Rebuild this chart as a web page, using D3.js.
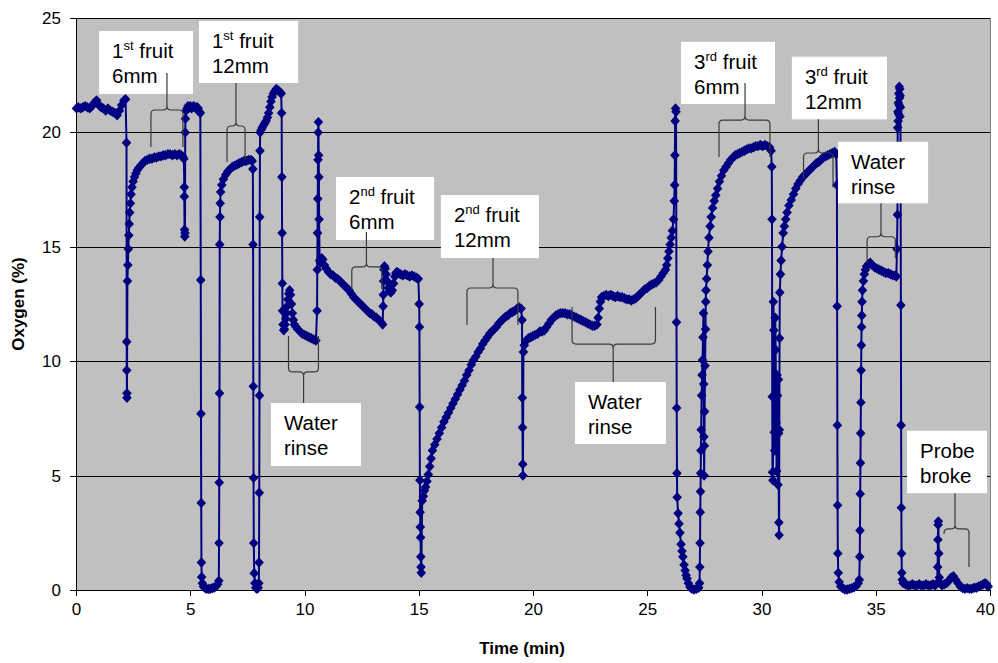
<!DOCTYPE html>
<html>
<head>
<meta charset="utf-8">
<script src="https://cdn.jsdelivr.net/npm/d3@7"></script>
<style>
  body { margin: 0; background: #fff; }
  text { font-family: "Liberation Sans", Arial, sans-serif; }
</style>
</head>
<body>
<div class="canvas"></div>
<script>
// oxygen reading, [time (min), oxygen (%)]
const airStart = [[0.02,21.05],[0.1,21.1],[0.2,21.05],[0.3,21.1],[0.4,21.15],[0.5,21.1],[0.6,21.05],[0.7,21.15],[0.8,21.3],[0.9,21.4],[1.0,21.2],[1.1,21.1],[1.2,21.05],[1.3,20.95],[1.4,21.05],[1.5,20.95],[1.6,20.9],[1.7,20.85],[1.8,20.75],[1.9,20.95],[2.0,21.2],[2.1,21.4],[2.17,21.45]]

const fruit1_6mm = [[2.21,19.55],[2.22,10.85],[2.22,9.6],[2.23,8.6],[2.23,8.4],[2.25,13.5],[2.27,14.2],[2.29,14.9],[2.31,15.5],[2.33,16.0],[2.35,16.5],[2.38,16.9],[2.41,17.3],[2.45,17.6],[2.5,17.85],[2.56,18.05],[2.62,18.2],[2.68,18.35],[2.75,18.45],[2.83,18.55],[2.92,18.65],[3.02,18.75],[3.12,18.8],[3.22,18.85],[3.32,18.85],[3.42,18.9],[3.52,18.9],[3.62,18.95],[3.72,18.95],[3.82,19.0],[3.92,19.0],[4.02,19.05],[4.12,19.05],[4.22,19.0],[4.32,19.05],[4.42,19.0],[4.52,19.05],[4.6,19.0],[4.67,18.95],[4.72,18.85]]

const air1 = [[4.74,17.6],[4.74,17.2],[4.75,15.75],[4.76,15.45],[4.77,15.6],[4.78,20.0],[4.79,20.6],[4.82,20.95],[4.86,21.05],[4.9,21.15],[4.95,21.1],[5.0,21.15],[5.05,21.05],[5.1,21.1],[5.15,21.15],[5.2,21.1],[5.25,21.05],[5.3,21.1],[5.35,21.05],[5.4,20.9],[5.44,20.85]]

const fruit1_12mm = [[5.46,13.55],[5.47,7.7],[5.48,3.8],[5.49,1.2],[5.5,0.57],[5.53,0.3],[5.58,0.15],[5.65,0.08],[5.72,0.05],[5.8,0.05],[5.88,0.05],[5.96,0.08],[6.04,0.1],[6.12,0.15],[6.2,0.25],[6.25,0.4],[6.26,2.05],[6.27,4.7],[6.28,8.6],[6.29,15.1],[6.3,16.3],[6.31,16.9],[6.33,17.4],[6.38,17.7],[6.45,17.95],[6.55,18.15],[6.65,18.3],[6.75,18.4],[6.85,18.5],[6.95,18.55],[7.05,18.6],[7.15,18.65],[7.25,18.7],[7.35,18.75],[7.45,18.75],[7.55,18.8],[7.65,18.8],[7.71,18.75]]

const air2 = [[7.74,18.4],[7.75,15.1],[7.76,8.9],[7.77,4.9],[7.78,2.05],[7.8,0.73],[7.83,0.3],[7.87,0.1],[7.92,0.05],[7.97,0.1],[8.0,0.3],[8.01,1.2],[8.02,4.25],[8.03,8.5],[8.04,16.3],[8.05,19.2],[8.06,20.0],[8.1,20.1],[8.15,20.2],[8.2,20.3],[8.26,20.4],[8.32,20.5],[8.38,20.65],[8.43,20.85],[8.48,21.1],[8.53,21.35],[8.58,21.55],[8.64,21.7],[8.7,21.8],[8.76,21.9],[8.82,21.85],[8.88,21.8],[8.94,21.75],[8.98,21.7]]

const rinse1 = [[9.0,20.85],[9.01,18.05],[9.02,15.6],[9.03,13.4],[9.04,12.2],[9.06,11.6],[9.09,11.35],[9.12,11.4],[9.15,11.6],[9.18,11.85],[9.21,12.1],[9.24,12.4],[9.27,12.7],[9.31,12.95],[9.35,13.1],[9.39,12.9],[9.43,12.5],[9.47,12.1],[9.51,11.8],[9.56,11.6],[9.63,11.5],[9.7,11.4],[9.8,11.3],[9.9,11.2],[10.0,11.15],[10.1,11.1],[10.2,11.05],[10.3,11.0],[10.4,10.95],[10.5,10.9],[10.55,12.2],[10.56,14.0],[10.57,15.6],[10.58,17.1],[10.59,18.8],[10.6,20.0],[10.61,20.45],[10.62,19.0],[10.63,18.05],[10.64,16.2],[10.66,14.4]]

const fruit2_6mm = [[10.7,14.3],[10.75,14.5],[10.8,14.45],[10.87,14.2],[10.95,14.05],[11.05,13.9],[11.15,13.8],[11.25,13.75],[11.35,13.65],[11.45,13.6],[11.55,13.5],[11.65,13.4],[11.75,13.3],[11.85,13.2],[11.95,13.1],[12.05,12.95],[12.15,12.8],[12.25,12.7],[12.35,12.6],[12.45,12.5],[12.55,12.4],[12.65,12.3],[12.75,12.2],[12.85,12.1],[12.95,12.05],[13.05,11.95],[13.15,11.9],[13.25,11.8],[13.35,11.7],[13.42,11.6],[13.44,12.4],[13.45,12.9],[13.46,13.5],[13.48,14.0],[13.5,14.15],[13.53,14.05],[13.57,13.8],[13.62,13.5],[13.67,13.2],[13.72,13.05],[13.78,13.0],[13.84,13.1],[13.9,13.4],[13.95,13.7],[14.0,13.85],[14.05,13.9],[14.12,13.85],[14.2,13.8],[14.3,13.75],[14.4,13.8],[14.5,13.75],[14.6,13.7],[14.7,13.75],[14.8,13.7],[14.9,13.65],[14.98,13.6]]

const fruit2_12mm = [[15.02,12.5],[15.03,11.5],[15.04,8.0],[15.05,4.8],[15.06,3.4],[15.07,2.75],[15.08,2.3],[15.09,1.45],[15.1,1.0],[15.11,0.75],[15.15,3.9],[15.2,4.1],[15.25,4.35],[15.3,4.5],[15.36,4.75],[15.42,5.05],[15.48,5.4],[15.54,5.75],[15.6,6.1],[15.7,6.35],[15.8,6.6],[15.9,6.85],[16.0,7.1],[16.1,7.35],[16.2,7.55],[16.3,7.75],[16.4,7.95],[16.5,8.15],[16.6,8.35],[16.7,8.55],[16.8,8.75],[16.9,8.95],[17.0,9.15],[17.1,9.4],[17.2,9.6],[17.3,9.85],[17.4,10.05],[17.5,10.2],[17.6,10.4],[17.7,10.55],[17.8,10.75],[17.9,10.9],[18.0,11.05],[18.1,11.2],[18.2,11.3],[18.3,11.4],[18.4,11.5],[18.5,11.65],[18.6,11.75],[18.7,11.85],[18.8,11.95],[18.9,12.0],[19.0,12.1],[19.1,12.15],[19.2,12.2],[19.3,12.3],[19.4,12.35],[19.48,12.3]]

const rinse2 = [[19.52,11.8],[19.53,8.4],[19.54,7.1],[19.55,5.5],[19.56,5.0],[19.58,10.4],[19.62,10.7],[19.7,10.9],[19.8,11.0],[19.9,11.05],[20.0,11.1],[20.1,11.15],[20.2,11.2],[20.3,11.3],[20.4,11.3],[20.5,11.35],[20.6,11.5],[20.7,11.65],[20.8,11.8],[20.9,11.9],[21.0,12.0],[21.1,12.05],[21.2,12.1],[21.3,12.1],[21.4,12.1],[21.5,12.05],[21.6,12.05],[21.7,12.0],[21.8,11.95],[21.9,11.9],[22.0,11.85],[22.1,11.8],[22.2,11.75],[22.3,11.7],[22.4,11.65],[22.5,11.6],[22.6,11.55],[22.7,11.55],[22.8,11.6],[22.85,11.9],[22.9,12.3],[22.95,12.6],[23.0,12.8],[23.1,12.85],[23.2,12.9],[23.3,12.85],[23.4,12.9],[23.5,12.85],[23.6,12.8],[23.7,12.85],[23.8,12.8],[23.9,12.8],[24.0,12.75],[24.1,12.7],[24.2,12.7],[24.3,12.65],[24.4,12.7],[24.5,12.75],[24.6,12.85],[24.7,12.95],[24.8,13.05],[24.9,13.15],[25.0,13.2],[25.1,13.3],[25.2,13.35],[25.3,13.4],[25.4,13.45],[25.5,13.55],[25.6,13.7],[25.7,13.85],[25.8,14.0],[25.85,14.2],[25.9,14.5],[25.95,14.8],[26.0,15.1],[26.05,15.4],[26.1,15.7],[26.15,16.2]]

const fruit3_6mm = [[26.18,17.0],[26.2,17.7],[26.21,19.0],[26.22,20.5],[26.24,21.05],[26.26,20.9],[26.28,11.7],[26.29,7.95],[26.3,5.1],[26.31,4.05],[26.35,3.35],[26.39,2.9],[26.43,2.5],[26.48,2.0],[26.52,1.7],[26.56,1.45],[26.61,1.1],[26.66,0.85],[26.7,0.65],[26.74,0.5],[26.8,0.3],[26.87,0.13],[26.95,0.05],[27.05,0.02],[27.15,0.05],[27.25,0.1],[27.29,0.3],[27.3,1.0],[27.31,2.05],[27.32,3.4],[27.33,4.3],[27.34,5.1],[27.35,6.1],[27.36,7.0],[27.38,8.5],[27.4,9.4],[27.42,10.05],[27.44,11.05],[27.46,12.1],[27.47,9.0],[27.48,6.7],[27.49,5.0],[27.5,6.3],[27.51,7.8],[27.53,9.8],[27.55,11.4],[27.56,12.6],[27.57,13.1],[27.6,13.6],[27.63,14.2],[27.66,14.8],[27.7,15.4],[27.75,15.9],[27.8,16.3],[27.86,16.7],[27.93,17.0],[28.0,17.25],[28.08,17.55],[28.16,17.85],[28.25,18.1],[28.35,18.35],[28.45,18.5],[28.55,18.65],[28.65,18.8],[28.75,18.9],[28.85,19.0],[28.95,19.05],[29.05,19.1],[29.15,19.15],[29.25,19.2],[29.35,19.25],[29.45,19.3],[29.55,19.3],[29.65,19.35],[29.75,19.4],[29.85,19.4],[29.95,19.45],[30.05,19.4],[30.15,19.45],[30.25,19.4],[30.35,19.35],[30.42,19.2]]

const fruit3_12mm = [[30.45,18.5],[30.46,16.2],[30.47,8.45],[30.48,5.15],[30.5,4.8],[30.52,12.6],[30.54,11.35],[30.56,6.9],[30.58,6.1],[30.6,11.9],[30.62,10.5],[30.64,7.3],[30.66,5.2],[30.68,9.4],[30.7,8.5],[30.72,4.6],[30.74,9.2],[30.75,6.85],[30.76,2.95],[30.77,2.4],[30.78,7.0],[30.79,11.0],[30.8,13.0],[30.83,13.8],[30.86,14.4],[30.9,15.0],[30.95,15.6],[31.0,15.9],[31.06,16.2],[31.12,16.5],[31.2,16.8],[31.3,17.05],[31.4,17.3],[31.5,17.55],[31.6,17.75],[31.7,17.9],[31.8,18.05],[31.9,18.15],[32.0,18.25],[32.1,18.35],[32.2,18.45],[32.3,18.55],[32.4,18.65],[32.5,18.7],[32.6,18.8],[32.7,18.9],[32.8,18.95],[32.9,19.0],[33.0,19.05],[33.1,19.1],[33.2,19.15],[33.27,19.05]]

const rinse3 = [[33.3,17.7],[33.31,12.4],[33.32,7.2],[33.33,3.7],[33.34,1.6],[33.36,0.75],[33.4,0.35],[33.47,0.15],[33.55,0.08],[33.65,0.02],[33.75,0.02],[33.85,0.05],[33.95,0.08],[34.05,0.12],[34.15,0.18],[34.23,0.3],[34.28,0.45],[34.3,1.45],[34.31,2.6],[34.32,4.2],[34.33,5.55],[34.34,6.85],[34.35,8.2],[34.36,9.6],[34.37,10.7],[34.38,11.5],[34.39,12.0],[34.4,12.6],[34.42,13.1],[34.46,13.5],[34.5,13.8],[34.55,14.0],[34.6,14.15],[34.68,14.25],[34.76,14.3],[34.85,14.2],[34.95,14.1],[35.05,14.05],[35.15,14.0],[35.25,13.95],[35.35,13.9],[35.45,13.85],[35.55,13.85],[35.65,13.8],[35.75,13.75],[35.85,13.75],[35.9,13.7],[35.93,14.9],[35.95,16.4],[35.96,20.2],[35.97,20.9],[35.98,20.5],[35.99,21.3],[36.0,20.8],[36.01,21.7],[36.02,21.2],[36.03,22.0],[36.04,21.5],[36.05,21.9],[36.06,20.7],[36.07,21.6],[36.08,21.1]]

const probeBroke = [[36.1,12.45],[36.11,7.2],[36.12,3.6],[36.13,1.6],[36.14,0.75],[36.16,0.45],[36.2,0.3],[36.3,0.25],[36.4,0.2],[36.5,0.2],[36.6,0.25],[36.7,0.2],[36.8,0.2],[36.9,0.25],[37.0,0.2],[37.1,0.2],[37.2,0.25],[37.3,0.2],[37.4,0.2],[37.5,0.25],[37.6,0.2],[37.68,0.3],[37.71,1.0],[37.72,2.2],[37.73,2.85],[37.74,3.0],[37.76,1.6],[37.78,0.55],[37.82,0.3],[37.9,0.2],[38.0,0.25],[38.1,0.3],[38.2,0.4],[38.3,0.55],[38.4,0.6],[38.5,0.45],[38.6,0.3],[38.7,0.15],[38.8,0.08],[38.9,0.05],[39.0,0.08],[39.1,0.05],[39.2,0.05],[39.3,0.1],[39.4,0.1],[39.5,0.15],[39.6,0.2],[39.7,0.25],[39.78,0.3],[39.85,0.25],[39.92,0.15]]

const xTicks = [0, 5, 10, 15, 20, 25, 30, 35, 40]
const yTicks = [0, 5, 10, 15, 20, 25]

// callouts: box corners and brace in chart units, "^" wraps superscripts
const notes = [
    { text: ['1^st^ fruit', '6mm'], box: [1.01, 24.43, 5.12, 21.68],
      brace: { dir: 1, l: 3.28, r: 4.68, s: 3.98, arm: 20.98, legL: 19.36, legR: 19.36, stem: 22.6 } },
    { text: ['1^st^ fruit', '12mm'], box: [5.38, 24.87, 9.72, 22.16],
      brace: { dir: 1, l: 6.61, r: 7.4, s: 7.0, arm: 20.28, legL: 18.71, legR: 18.8, stem: 22.16 } },
    { text: ['2^nd^ fruit', '6mm'], box: [11.38, 18.05, 15.67, 15.3],
      brace: { dir: 1, l: 12.07, r: 13.38, s: 12.71, arm: 14.12, legL: 13.16, legR: 13.16, stem: 15.65 } },
    { text: ['2^nd^ fruit', '12mm'], box: [15.97, 17.26, 20.26, 14.51],
      brace: { dir: 1, l: 17.11, r: 19.34, s: 18.25, arm: 13.2, legL: 11.58, legR: 11.58, stem: 14.51 } },
    { text: ['Water', 'rinse'], box: [8.53, 8.17, 12.47, 5.42],
      brace: { dir: -1, l: 9.3, r: 10.61, s: 9.96, arm: 9.53, legL: 11.1, legR: 11.1, stem: 8.17 } },
    { text: ['Water', 'rinse'], box: [21.84, 9.09, 25.82, 6.38],
      brace: { dir: -1, l: 21.71, r: 25.36, s: 23.51, arm: 10.75, legL: 12.37, legR: 12.37, stem: 9.09 } },
    { text: ['3^rd^ fruit', '6mm'], box: [26.48, 23.96, 30.59, 21.24],
      brace: { dir: 1, l: 28.14, r: 30.37, s: 29.28, arm: 20.54, legL: 18.92, legR: 18.92, stem: 22.16 } },
    { text: ['3^rd^ fruit', '12mm'], box: [31.33, 23.31, 35.49, 20.57],
      brace: { dir: 1, l: 31.84, r: 33.13, s: 32.49, arm: 19.1, legL: 18.0, legR: 17.6, stem: 20.57 } },
    { text: ['Water', 'rinse'], box: [33.35, 19.59, 37.29, 16.9],
      brace: { dir: 1, l: 34.62, r: 35.86, s: 35.23, arm: 15.44, legL: 14.29, legR: 14.5, stem: 16.9 } },
    { text: ['Probe', 'broke'], box: [36.37, 6.96, 39.87, 4.23],
      brace: { dir: 1, l: 37.99, r: 39.08, s: 38.47, arm: 2.67, legL: 2.45, legR: 1.0, stem: 4.23 } }
]

const series = [].concat(airStart, fruit1_6mm, air1, fruit1_12mm, air2, rinse1,
    fruit2_6mm, fruit2_12mm, rinse2, fruit3_6mm, fruit3_12mm, rinse3, probeBroke)

const svg = d3.select('.canvas').append('svg')
    .attr('width', 998)
    .attr('height', 663)

const margin = { top: 18, right: 8, bottom: 73, left: 76 }
const graphWidth = 998 - margin.left - margin.right
const graphHeight = 663 - margin.top - margin.bottom

const graph = svg.append('g')
    .attr('transform', `translate(${margin.left}, ${margin.top})`)

const x = d3.scaleLinear().domain([0, 40]).range([0, graphWidth])
const y = d3.scaleLinear().domain([0, 25]).range([graphHeight, 0])

// plot area
graph.append('rect')
    .attr('width', graphWidth)
    .attr('height', graphHeight)
    .attr('fill', '#c0c0c0')
    .attr('stroke', '#808080')
    .attr('shape-rendering', 'crispEdges')

graph.selectAll('.grid')
    .data(yTicks.filter(d => d > 0))
    .enter()
    .append('line')
    .attr('x1', 0)
    .attr('x2', graphWidth)
    .attr('y1', d => Math.round(y(d)) + 0.5)
    .attr('y2', d => Math.round(y(d)) + 0.5)
    .attr('stroke', '#000')
    .attr('stroke-width', 1)

// axes
const xAxis = d3.axisBottom(x).tickValues(xTicks).tickSize(6).tickPadding(7)
const yAxis = d3.axisLeft(y).tickValues(yTicks).tickSize(6).tickPadding(9)

const xAxisGroup = graph.append('g')
    .attr('transform', `translate(0, ${graphHeight})`)
    .call(xAxis)
const yAxisGroup = graph.append('g').call(yAxis)

;[xAxisGroup, yAxisGroup].forEach(g => {
    g.select('.domain').attr('stroke', '#000').attr('shape-rendering', 'crispEdges')
    g.selectAll('line').attr('stroke', '#000').attr('shape-rendering', 'crispEdges')
    g.selectAll('text')
        .attr('font-size', 17)
        .attr('font-family', '"Liberation Sans", Arial, sans-serif')
        .attr('fill', '#000')
})
// last time label sits a little inside the right edge
xAxisGroup.selectAll('.tick text').filter(d => d === 40).attr('dx', -5)

// trace
const line = d3.line()
    .x(d => x(d[0]))
    .y(d => y(d[1]))

graph.append('path')
    .datum(series)
    .attr('d', line)
    .attr('fill', 'none')
    .attr('stroke', '#000080')
    .attr('stroke-width', 2)

graph.selectAll('.pt')
    .data(series)
    .enter()
    .append('path')
    .attr('class', 'pt')
    .attr('d', 'M0,-5.2L4.8,0L0,5.2L-4.8,0Z')
    .attr('transform', d => `translate(${x(d[0])}, ${y(d[1])})`)
    .attr('fill', '#000080')

// callouts
const r = 4
const bracePath = (b) => {
    const xl = x(b.l), xr = x(b.r), xs = x(b.s)
    const ya = y(b.arm), s = b.dir
    return `M${xl},${y(b.legL)} L${xl},${ya + s * r} Q${xl},${ya} ${xl + r},${ya}` +
        ` L${xs - r},${ya} Q${xs},${ya} ${xs},${ya - s * r} L${xs},${y(b.stem)}` +
        ` M${xr},${y(b.legR)} L${xr},${ya + s * r} Q${xr},${ya} ${xr - r},${ya}` +
        ` L${xs + r},${ya} Q${xs},${ya} ${xs},${ya - s * r}`
}

const note = graph.selectAll('.note')
    .data(notes)
    .enter()
    .append('g')
    .attr('class', 'note')

note.append('rect')
    .attr('x', d => x(d.box[0]))
    .attr('y', d => y(d.box[1]))
    .attr('width', d => x(d.box[2]) - x(d.box[0]))
    .attr('height', d => y(d.box[3]) - y(d.box[1]))
    .attr('fill', '#fff')

note.append('path')
    .attr('d', d => bracePath(d.brace))
    .attr('fill', 'none')
    .attr('stroke', '#3a3a3a')
    .attr('stroke-width', 1.2)

note.each(function (d) {
    const g = d3.select(this)
    d.text.forEach((str, i) => {
        const t = g.append('text')
            .attr('x', x(d.box[0]) + 13)
            .attr('y', y(d.box[1]) + 27 + i * 25)
            .attr('font-size', 20.5)
            .attr('fill', '#000')
        str.split('^').forEach((part, j) => {
            if (!part) return
            const sup = j % 2 === 1
            t.append('tspan')
                .attr('font-size', sup ? 13 : 20.5)
                .attr('dy', sup ? -8 : (j > 0 ? 8 : 0))
                .text(part)
        })
    })
})

// axis titles
svg.append('text')
    .attr('x', margin.left + graphWidth / 2 - 11)
    .attr('y', 654)
    .attr('text-anchor', 'middle')
    .attr('font-size', 17)
    .attr('font-weight', 'bold')
    .text('Time (min)')

svg.append('text')
    .attr('transform', `translate(24, ${margin.top + graphHeight / 2}) rotate(-90)`)
    .attr('text-anchor', 'middle')
    .attr('font-size', 17)
    .attr('font-weight', 'bold')
    .text('Oxygen (%)')
</script>
</body>
</html>
